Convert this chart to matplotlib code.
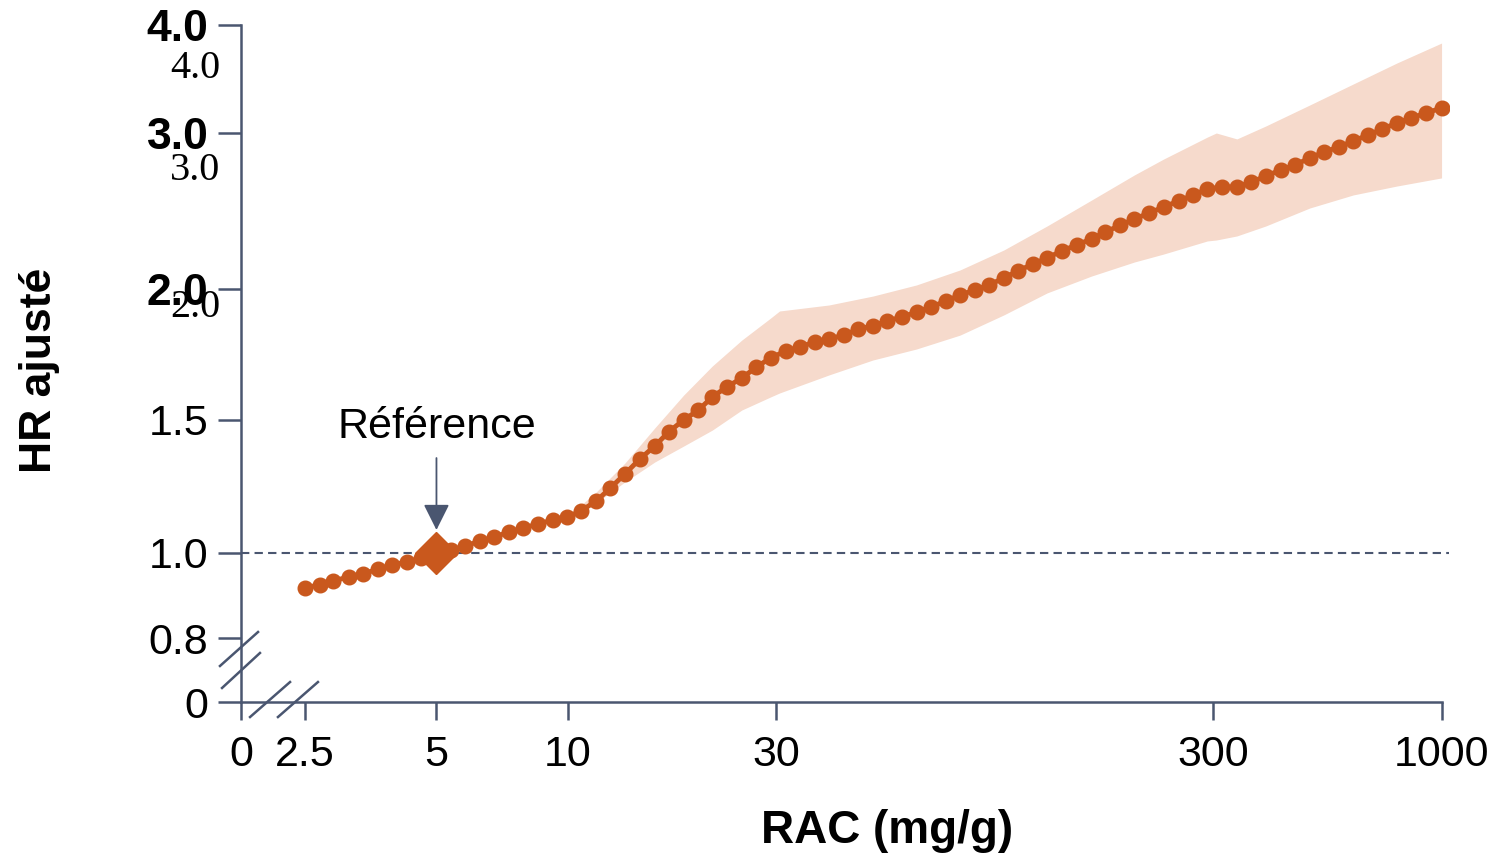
import numpy as np
import matplotlib
matplotlib.use('Agg')
from matplotlib import pyplot as plt
from matplotlib import transforms

plt.rcParams['font.family'] = ['Liberation Sans', 'DejaVu Sans']

# RAC (mg/g) and adjusted HR
rac = [2.5, 2.7, 2.9, 3.15, 3.4, 3.67, 3.96, 4.28, 4.62, 5.0,
       5.39, 5.82, 6.28, 6.78, 7.32, 7.9, 8.54, 9.22, 9.95, 10.7,
       11.6, 12.5, 13.5, 14.6, 15.8, 17.0, 18.4, 19.9, 21.4, 23.1,
       25.0, 27.0, 29.1, 31.5, 34.0, 36.7, 39.6, 42.8, 46.2, 49.9,
       53.8, 58.1, 62.8, 67.8, 73.2, 79.0, 85.3, 92.1, 99.5, 107,
       116, 125, 135, 146, 158, 170, 184, 198, 214, 231,
       250, 270, 291, 315, 340, 367, 396, 428, 462, 499,
       538, 581, 628, 678, 732, 790, 853, 921, 1000]
hr = [0.918, 0.925, 0.934, 0.944, 0.951, 0.962, 0.972, 0.979, 0.988, 1.0,
      1.011, 1.026, 1.045, 1.060, 1.079, 1.094, 1.109, 1.124, 1.135, 1.158,
      1.195, 1.244, 1.297, 1.353, 1.402, 1.455, 1.5, 1.538, 1.588, 1.626,
      1.660, 1.702, 1.737, 1.763, 1.779, 1.798, 1.809, 1.824, 1.847, 1.859,
      1.878, 1.893, 1.912, 1.931, 1.954, 1.977, 1.996, 2.026, 2.071, 2.115,
      2.160, 2.199, 2.244, 2.282, 2.321, 2.365, 2.410, 2.449, 2.487, 2.526,
      2.564, 2.603, 2.641, 2.654, 2.654, 2.686, 2.724, 2.763, 2.795, 2.840,
      2.878, 2.910, 2.949, 2.987, 3.037, 3.093, 3.139, 3.185, 3.231]

# 95% CI band
ci_x = [9.95, 11.6, 13.5, 15.8, 18.4, 21.4, 25.0, 29.1, 30.5, 39.6,
        49.9, 62.8, 79.0, 99.5, 125, 158, 198, 231, 291, 305,
        340, 396, 499, 628, 790, 1000]
ci_lo = [1.135, 1.188, 1.267, 1.342, 1.402, 1.462, 1.538, 1.588, 1.603, 1.672,
         1.729, 1.771, 1.824, 1.901, 1.985, 2.083, 2.173, 2.224, 2.308, 2.314,
         2.340, 2.404, 2.519, 2.603, 2.660, 2.712]
ci_hi = [1.135, 1.229, 1.338, 1.470, 1.595, 1.706, 1.805, 1.889, 1.916, 1.939,
         1.973, 2.026, 2.122, 2.250, 2.404, 2.570, 2.731, 2.833, 2.974, 3.0,
         2.962, 3.065, 3.259, 3.454, 3.648, 3.833]

ref_x, ref_hr = 5, 1.0

x_ticks = [0, 2.5, 5, 10, 30, 300, 1000]
x_labels = ['0', '2.5', '5', '10', '30', '300', '1000']
y_ticks = [0, 0.8, 1.0, 1.5, 2.0, 3.0, 4.0]
y_labels = ['0', '0.8', '1.0', '1.5', '2.0', '3.0', '4.0']

AXIS = '#4a5670'
ORANGE = '#c9581d'
BAND = '#f6dacc'

# broken axes: linear stretch below 2.5 / 0.8, then the published spacing
Y_POS = [0, 64, 149, 282, 413, 569, 677]


def x_fwd(v):
    v = np.asarray(v, dtype=float)
    lg = np.log10(np.clip(v, 2.5, None) / 2.5) * 437 + 64
    return np.where(v >= 2.5, lg, v / 2.5 * 64)


def x_inv(p):
    p = np.asarray(p, dtype=float)
    ex = 2.5 * 10 ** ((np.clip(p, 64, None) - 64) / 437)
    return np.where(p >= 64, ex, p / 64 * 2.5)


def y_fwd(v):
    return np.interp(v, y_ticks, Y_POS)


def y_inv(p):
    return np.interp(p, Y_POS, y_ticks)


fig = plt.figure(figsize=(14.98, 8.59), dpi=100)
ax = fig.add_axes([241 / 1498, 1 - 702 / 859, 1208 / 1498, 677 / 859])
ax.set_xscale('function', functions=(x_fwd, x_inv))
ax.set_yscale('function', functions=(y_fwd, y_inv))
ax.set_xlim(0, 1040)
ax.set_ylim(0, 4.0)

ax.fill_between(ci_x, ci_lo, ci_hi, color=BAND, lw=0, zorder=1)
ax.axhline(1.0, color=AXIS, lw=1.5, ls=(0, (4, 2.5)), zorder=2)
ax.plot(rac, hr, color=ORANGE, lw=3.5, marker='o', ms=10.5, mec=ORANGE, zorder=3)
ax.plot([ref_x], [ref_hr], marker='D', ms=21, color=ORANGE, zorder=4)

ax.annotate('', xy=(ref_x, 1.0865), xytext=(ref_x, 1.357),
            arrowprops=dict(arrowstyle='-|>,head_length=1.6,head_width=0.8',
                            color=AXIS, lw=1.3, shrinkA=0, shrinkB=0))
ax.text(ref_x, 1.474, 'Référence', ha='center', va='center', fontsize=31)

for s in ['top', 'right']:
    ax.spines[s].set_visible(False)
for s in ['left', 'bottom']:
    ax.spines[s].set_color(AXIS)
    ax.spines[s].set_linewidth(1.8)
ax.spines['bottom'].set_bounds(0, 1000)

ax.set_xticks(x_ticks)
ax.set_xticklabels(x_labels, fontsize=31)
ax.set_yticks(y_ticks)
ax.set_yticklabels(y_labels, fontsize=31)
ax.xaxis.set_minor_locator(matplotlib.ticker.NullLocator())
ax.yaxis.set_minor_locator(matplotlib.ticker.NullLocator())
ax.tick_params(axis='y', length=16.5, width=1.8, color=AXIS, pad=7)
ax.tick_params(axis='x', length=13, width=1.8, color=AXIS, pad=11)
for lab in ax.get_yticklabels()[4:]:
    lab.set_fontweight('bold')
    lab.set_fontsize(32)

# duplicated serif labels of the top ticks
trans = transforms.blended_transform_factory(ax.transAxes, ax.transData)
for val, txt, dy in [(4.0, '4.0', -31), (3.0, '3.0', -27), (2.0, '2.0', -13)]:
    ax.annotate(txt, xy=(-0.017, val), xycoords=trans, xytext=(0, dy),
                textcoords='offset points', ha='right', va='center',
                fontsize=29, family=['Liberation Serif', 'DejaVu Serif'])

# break marks
for xs, ys in [([-0.0174, 0.0141], [0.0532, 0.1034]),
               ([-0.0157, 0.0157], [0.0207, 0.0724]),
               ([0.0075, 0.0406], [-0.0222, 0.0295]),
               ([0.0306, 0.0637], [-0.0222, 0.0295])]:
    ax.plot(xs, ys, transform=ax.transAxes, color=AXIS, lw=1.8, clip_on=False)

ax.set_xlabel('RAC (mg/g)', fontsize=33, fontweight='bold', va='center')
ax.xaxis.set_label_coords(0.535, -0.19)
ax.set_ylabel('HR ajusté', fontsize=32, fontweight='bold', va='center')
ax.yaxis.set_label_coords(-0.167, 0.49)

fig.savefig('out.png', dpi=100, facecolor='white')
